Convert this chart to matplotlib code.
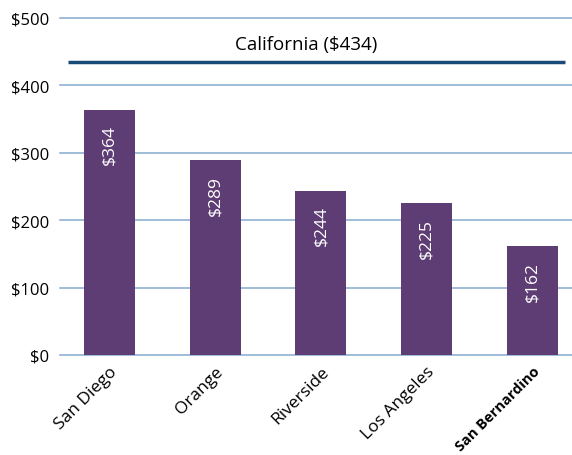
import matplotlib
matplotlib.use("Agg")
import matplotlib.pyplot as plt
import matplotlib.transforms as mtransforms

categories = ["San Diego", "Orange", "Riverside", "Los Angeles", "San Bernardino"]
values = [364, 289, 244, 225, 162]
labels = ["$364", "$289", "$244", "$225", "$162"]
state_value = 434
state_label = "California ($434)"
yticks = [0, 100, 200, 300, 400, 500]
ytick_labels = ["$0", "$100", "$200", "$300", "$400", "$500"]

plt.rcParams['font.family'] = ['Open Sans', 'DejaVu Sans']

fig = plt.figure(figsize=(5.72, 4.56), dpi=100)
ax = fig.add_axes([60/572, 100/456, (572-60)/572, (356-19)/456])

xs = list(range(len(categories)))
ax.set_xlim(-0.468, 4.374)
ax.set_ylim(0, 500)
for y in yticks:
    ax.axhline(y, color='#86aad0', lw=1.1, zorder=1, clip_on=False)

ax.bar(xs, values, width=0.482, color='#5e3d74', zorder=2)
for x, v, l in zip(xs, values, labels):
    ax.text(x, v - 22, l, rotation=90, ha='center', va='top', color='white', fontsize=12.5, zorder=3)

ax.plot([-0.392, 4.307], [state_value, state_value], color='#1a4a78', lw=2.5, zorder=3, solid_capstyle='butt')
ax.text(1.863, 461, state_label, ha='center', va='center', fontsize=13.5, color='black')

ax.set_yticks(yticks)
ax.set_yticklabels(ytick_labels, fontsize=12)
ax.set_xticks(xs)
ax.set_xticklabels(categories, rotation=45, ha='right', rotation_mode='anchor', fontsize=12.5)
offset = mtransforms.ScaledTranslation(7/100, 0, fig.dpi_scale_trans)
for i, t in enumerate(ax.get_xticklabels()):
    t.set_transform(t.get_transform() + offset)
ax.get_xticklabels()[-1].set_fontweight('bold')
ax.get_xticklabels()[-1].set_fontsize(10.5)
ax.tick_params(axis='y', length=0, pad=8)
ax.tick_params(axis='x', length=0, pad=6)
for s in ax.spines.values():
    s.set_visible(False)

fig.savefig("out.png", dpi=100)
